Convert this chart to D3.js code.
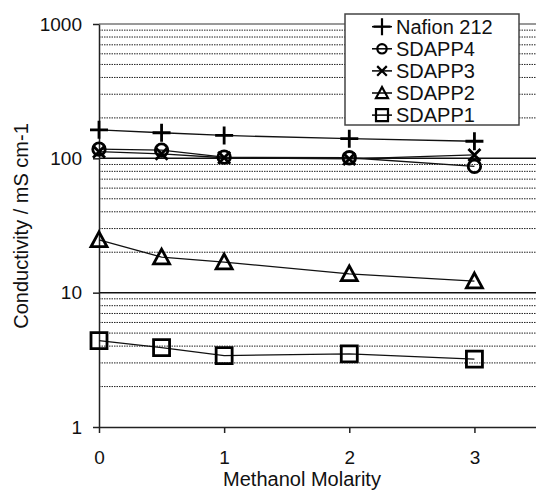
<!DOCTYPE html>
<html>
<head>
<meta charset="utf-8">
<script src="https://cdn.jsdelivr.net/npm/d3@7"></script>
<style>
  html, body { margin: 0; padding: 0; background: #fff; }
  svg { display: block; font-family: "Liberation Sans", Arial, sans-serif; }
</style>
</head>
<body>
<svg id="chart" width="536" height="491"></svg>
<script>
// data
const molarity = [0, 0.5, 1, 2, 3];
const nafion212 = [163, 155, 148, 140, 134];
const sdapp4 = [117, 115, 102, 101, 87];
const sdapp3 = [112, 108, 101, 99, 106];
const sdapp2 = [24.7, 18.4, 16.9, 13.8, 12.2];
const sdapp1 = [4.4, 3.9, 3.4, 3.5, 3.2];

const seriesNames = ["Nafion 212", "SDAPP4", "SDAPP3", "SDAPP2", "SDAPP1"];
const seriesValues = [nafion212, sdapp4, sdapp3, sdapp2, sdapp1];
const seriesMarks = ["plus", "circle", "cross", "triangle", "square"];

const xTicks = [0, 1, 2, 3];
const yTicks = [1, 10, 100, 1000];

const svg = d3.select("#chart");
const x = d3.scaleLinear().domain([0, 3.5]).range([99, 537]);
const y = d3.scaleLog().domain([1, 1000]).range([427, 24]);

// grid lines
const minor = [];
for (const d of [1, 10, 100]) for (let k = 2; k <= 9; k++) minor.push(d * k);

svg.append("g").selectAll("line")
  .data(minor)
  .join("line")
  .attr("x1", x(0)).attr("x2", x(3.5))
  .attr("y1", (d) => y(d)).attr("y2", (d) => y(d))
  .attr("stroke", "#222")
  .attr("stroke-width", 1)
  .attr("stroke-dasharray", "1.5,1");

svg.append("g").selectAll("line")
  .data([10, 100, 1000])
  .join("line")
  .attr("x1", x(0)).attr("x2", x(3.5))
  .attr("y1", (d) => y(d)).attr("y2", (d) => y(d))
  .attr("stroke", (d) => (d === 1000 ? "#777" : "#111"))
  .attr("stroke-width", 1.5);

// axes
const yAxis = svg.append("g")
  .attr("transform", `translate(${x(0)},0)`)
  .call(d3.axisLeft(y).tickValues(yTicks).tickFormat(d3.format("d")).tickSize(6).tickSizeOuter(0).tickPadding(11));
const xAxis = svg.append("g")
  .attr("transform", `translate(0,${y(1)})`)
  .call(d3.axisBottom(x).tickValues(xTicks).tickFormat(d3.format("d")).tickSize(6).tickSizeOuter(0).tickPadding(18));

for (const ax of [yAxis, xAxis]) {
  ax.select(".domain").attr("stroke", "#222").attr("stroke-width", 1.5);
  ax.selectAll(".tick line").attr("stroke", "#222").attr("stroke-width", 1.5);
  ax.selectAll(".tick text")
    .attr("fill", "#111")
    .style("font-size", "19px")
    .style("font-family", "'Liberation Sans', Arial, sans-serif");
}

// axis titles
svg.append("text")
  .attr("transform", "translate(21,226) rotate(-90)")
  .attr("text-anchor", "middle")
  .attr("dominant-baseline", "central")
  .style("font-size", "20px")
  .attr("fill", "#111")
  .text("Conductivity / mS cm-1");

svg.append("text")
  .attr("x", 302).attr("y", 486)
  .attr("text-anchor", "middle")
  .style("font-size", "20px")
  .attr("fill", "#111")
  .text("Methanol Molarity");

// marker shapes
function markPath(kind, s) {
  const h = s / 2;
  switch (kind) {
    case "plus": return `M${-h},0H${h}M0,${-h}V${h}`;
    case "cross": return `M${-h * 0.8},${-h * 0.8}L${h * 0.8},${h * 0.8}M${-h * 0.8},${h * 0.8}L${h * 0.8},${-h * 0.8}`;
    case "circle": {
      const r = h * 0.78;
      return `M${r},0A${r},${r} 0 1,1 ${-r},0A${r},${r} 0 1,1 ${r},0Z`;
    }
    case "triangle": return `M0,${-h}L${h},${h * 0.85}L${-h},${h * 0.85}Z`;
    case "square": return `M${-h},${-h}H${h}V${h}H${-h}Z`;
  }
}

const line = d3.line()
  .x((d) => x(d[0]))
  .y((d) => y(d[1]));

const series = seriesNames.map((name, i) => ({
  name,
  kind: seriesMarks[i],
  points: molarity.map((m, j) => [m, seriesValues[i][j]]),
}));

svg.append("g").selectAll("path")
  .data(series)
  .join("path")
  .attr("d", (s) => line(s.points))
  .attr("fill", "none")
  .attr("stroke", "#111")
  .attr("stroke-width", 1.3);

const markSize = { plus: 18, cross: 15, circle: 16, triangle: 16, square: 16 };

series.forEach((s) => {
  svg.append("g").selectAll("path")
    .data(s.points)
    .join("path")
    .attr("transform", (d) => `translate(${x(d[0])},${y(d[1])})`)
    .attr("d", markPath(s.kind, markSize[s.kind]))
    .attr("fill", "none")
    .attr("stroke", "#000")
    .attr("stroke-width", 2.8);
});

// legend
const legend = svg.append("g");
legend.append("rect")
  .attr("x", 345).attr("y", 14)
  .attr("width", 174).attr("height", 111)
  .attr("fill", "#fff")
  .attr("stroke", "#444")
  .attr("stroke-width", 1.5);

const rows = legend.selectAll("g.row")
  .data(series)
  .join("g")
  .attr("class", "row")
  .attr("transform", (d, i) => `translate(0,${26.7 + i * 22.1})`);

rows.append("line")
  .attr("x1", 372).attr("x2", 392)
  .attr("stroke", "#000").attr("stroke-width", 1.5);

rows.append("path")
  .attr("transform", "translate(382,0)")
  .attr("d", (d) => markPath(d.kind, d.kind === "plus" ? 17 : 12))
  .attr("fill", "none")
  .attr("stroke", "#000")
  .attr("stroke-width", 2.2);

rows.append("text")
  .attr("x", 396)
  .attr("dominant-baseline", "central")
  .style("font-size", "20px")
  .attr("fill", "#111")
  .text((d) => d.name);
</script>
</body>
</html>
